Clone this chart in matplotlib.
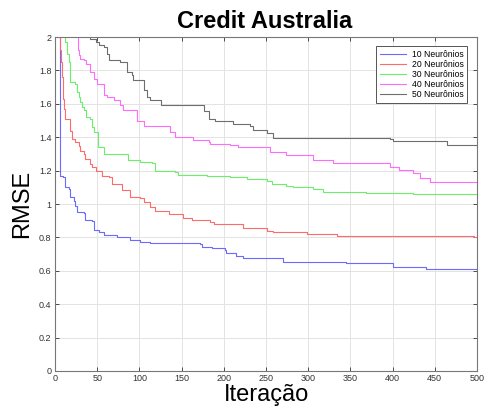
import matplotlib
matplotlib.use("Agg")
import matplotlib.pyplot as plt
from matplotlib.ticker import MultipleLocator, FuncFormatter

plt.rcParams["font.family"] = ["Liberation Sans", "DejaVu Sans"]

# Best RMSE found so far at each iteration (step changes only)
iter_10 = [1, 6, 10, 12, 16, 18, 22, 24, 26, 34, 36, 44, 46, 52, 58, 74, 89, 101, 113, 172, 174,
           186, 202, 203, 215, 223, 270, 345, 401, 440, 500]
rmse_10 = [3.0, 1.165, 1.16, 1.10, 1.09, 1.04, 1.02, 0.99, 0.95, 0.944, 0.904, 0.90, 0.844, 0.834,
           0.814, 0.80, 0.784, 0.774, 0.765, 0.76, 0.745, 0.735, 0.725, 0.705, 0.69, 0.677, 0.655,
           0.646, 0.625, 0.61, 0.60]

iter_20 = [1, 6, 7, 8, 9, 10, 11, 12, 18, 20, 24, 28, 30, 34, 36, 42, 44, 48, 56, 64, 68, 79, 89,
           101, 105, 113, 119, 135, 152, 162, 184, 188, 223, 251, 258, 298, 334, 497, 500]
rmse_20 = [3.0, 1.92, 1.85, 1.76, 1.70, 1.63, 1.57, 1.51, 1.44, 1.39, 1.37, 1.35, 1.32, 1.30, 1.27,
           1.24, 1.22, 1.20, 1.17, 1.16, 1.12, 1.084, 1.044, 1.034, 1.014, 0.984, 0.96, 0.94, 0.914,
           0.904, 0.894, 0.88, 0.854, 0.84, 0.83, 0.82, 0.81, 0.80, 0.80]

iter_30 = [1, 10, 12, 14, 16, 17.5, 24, 26, 28, 30, 32, 34, 37, 42, 44, 46, 51, 58, 87, 101, 115,
           119, 142, 146, 180, 207, 227, 251, 257, 274, 282, 306, 318, 369, 424, 500]
rmse_30 = [3.0, 2.05, 1.97, 1.90, 1.85, 1.73, 1.72, 1.67, 1.64, 1.61, 1.58, 1.56, 1.52, 1.51, 1.46,
           1.43, 1.34, 1.30, 1.263, 1.253, 1.244, 1.20, 1.193, 1.174, 1.168, 1.16, 1.15, 1.14, 1.12,
           1.107, 1.10, 1.088, 1.074, 1.068, 1.06, 1.052]

iter_40 = [1, 25, 27, 29, 30, 34, 37, 42, 46, 50, 58, 62, 70, 77, 81, 97, 105, 136, 142, 164, 182,
           184, 207, 217, 255, 274, 306, 329, 397, 408, 424, 432, 444, 500]
rmse_40 = [3.0, 2.05, 1.92, 1.89, 1.87, 1.86, 1.84, 1.79, 1.75, 1.72, 1.65, 1.64, 1.62, 1.59, 1.56,
           1.50, 1.47, 1.43, 1.40, 1.383, 1.373, 1.36, 1.353, 1.343, 1.313, 1.293, 1.263, 1.244,
           1.223, 1.204, 1.184, 1.154, 1.133, 1.124]

iter_50 = [1, 38, 42, 48, 52, 58, 62, 64, 77, 85, 91, 93, 105, 109, 113, 125, 176, 182, 190, 211,
           231, 235, 251, 258, 397, 401, 464, 500]
rmse_50 = [3.0, 2.02, 1.99, 1.97, 1.95, 1.94, 1.90, 1.86, 1.85, 1.79, 1.77, 1.74, 1.68, 1.64, 1.62,
           1.59, 1.555, 1.51, 1.50, 1.48, 1.467, 1.443, 1.423, 1.395, 1.389, 1.377, 1.353, 1.347]

series = [
    (iter_10, rmse_10, "#6b6bff", "10 Neurônios"),
    (iter_20, rmse_20, "#ff6b6b", "20 Neurônios"),
    (iter_30, rmse_30, "#6bef6b", "30 Neurônios"),
    (iter_40, rmse_40, "#ff6bff", "40 Neurônios"),
    (iter_50, rmse_50, "#6e6e6e", "50 Neurônios"),
]

fig = plt.figure(figsize=(4.85, 4.12), dpi=100)
ax = fig.add_axes([55 / 485, 41 / 412, 422 / 485, 334 / 412])

for xs, ys, color, label in series:
    ax.plot(xs, ys, drawstyle="steps-post", color=color, lw=0.8, label=label)

ax.set_xlim(0, 500)
ax.set_ylim(0, 2)
ax.xaxis.set_major_locator(MultipleLocator(50))
ax.yaxis.set_major_locator(MultipleLocator(0.2))
ax.yaxis.set_major_formatter(FuncFormatter(lambda v, p: f"{v:.10g}" if abs(v) > 1e-9 else "0"))

ax.grid(True, color="#e3e3e3", lw=0.7)
ax.set_axisbelow(True)
ax.tick_params(direction="in", length=3, width=0.6, labelsize=6.5, colors="#333333",
               top=True, right=True, pad=2.5)
for s in ax.spines.values():
    s.set_color("#777777")
    s.set_linewidth(0.8)

ax.set_xlabel("Iteração", fontsize=17)
ax.xaxis.set_label_coords(0.5, -0.072)
ax.xaxis.label.set_va("center")
ax.set_ylabel("RMSE", fontsize=17)
ax.yaxis.set_label_coords(-0.079, 0.5)
ax.yaxis.label.set_va("center")

fig.text(265 / 485, 1 - 21 / 412, "Credit Australia", fontsize=17, fontweight="bold",
         ha="center", va="center")

leg = ax.legend(loc="upper right", bbox_to_anchor=(0.977, 0.973), borderaxespad=0,
                prop={"family": ["Liberation Sans", "DejaVu Sans"], "size": 6.2},
                fancybox=False, handlelength=3.1, labelspacing=0.12,
                borderpad=0.45, handletextpad=0.6, framealpha=1)
leg.get_frame().set_edgecolor("#555555")
leg.get_frame().set_linewidth(0.7)

fig.savefig("out.png", dpi=100)
